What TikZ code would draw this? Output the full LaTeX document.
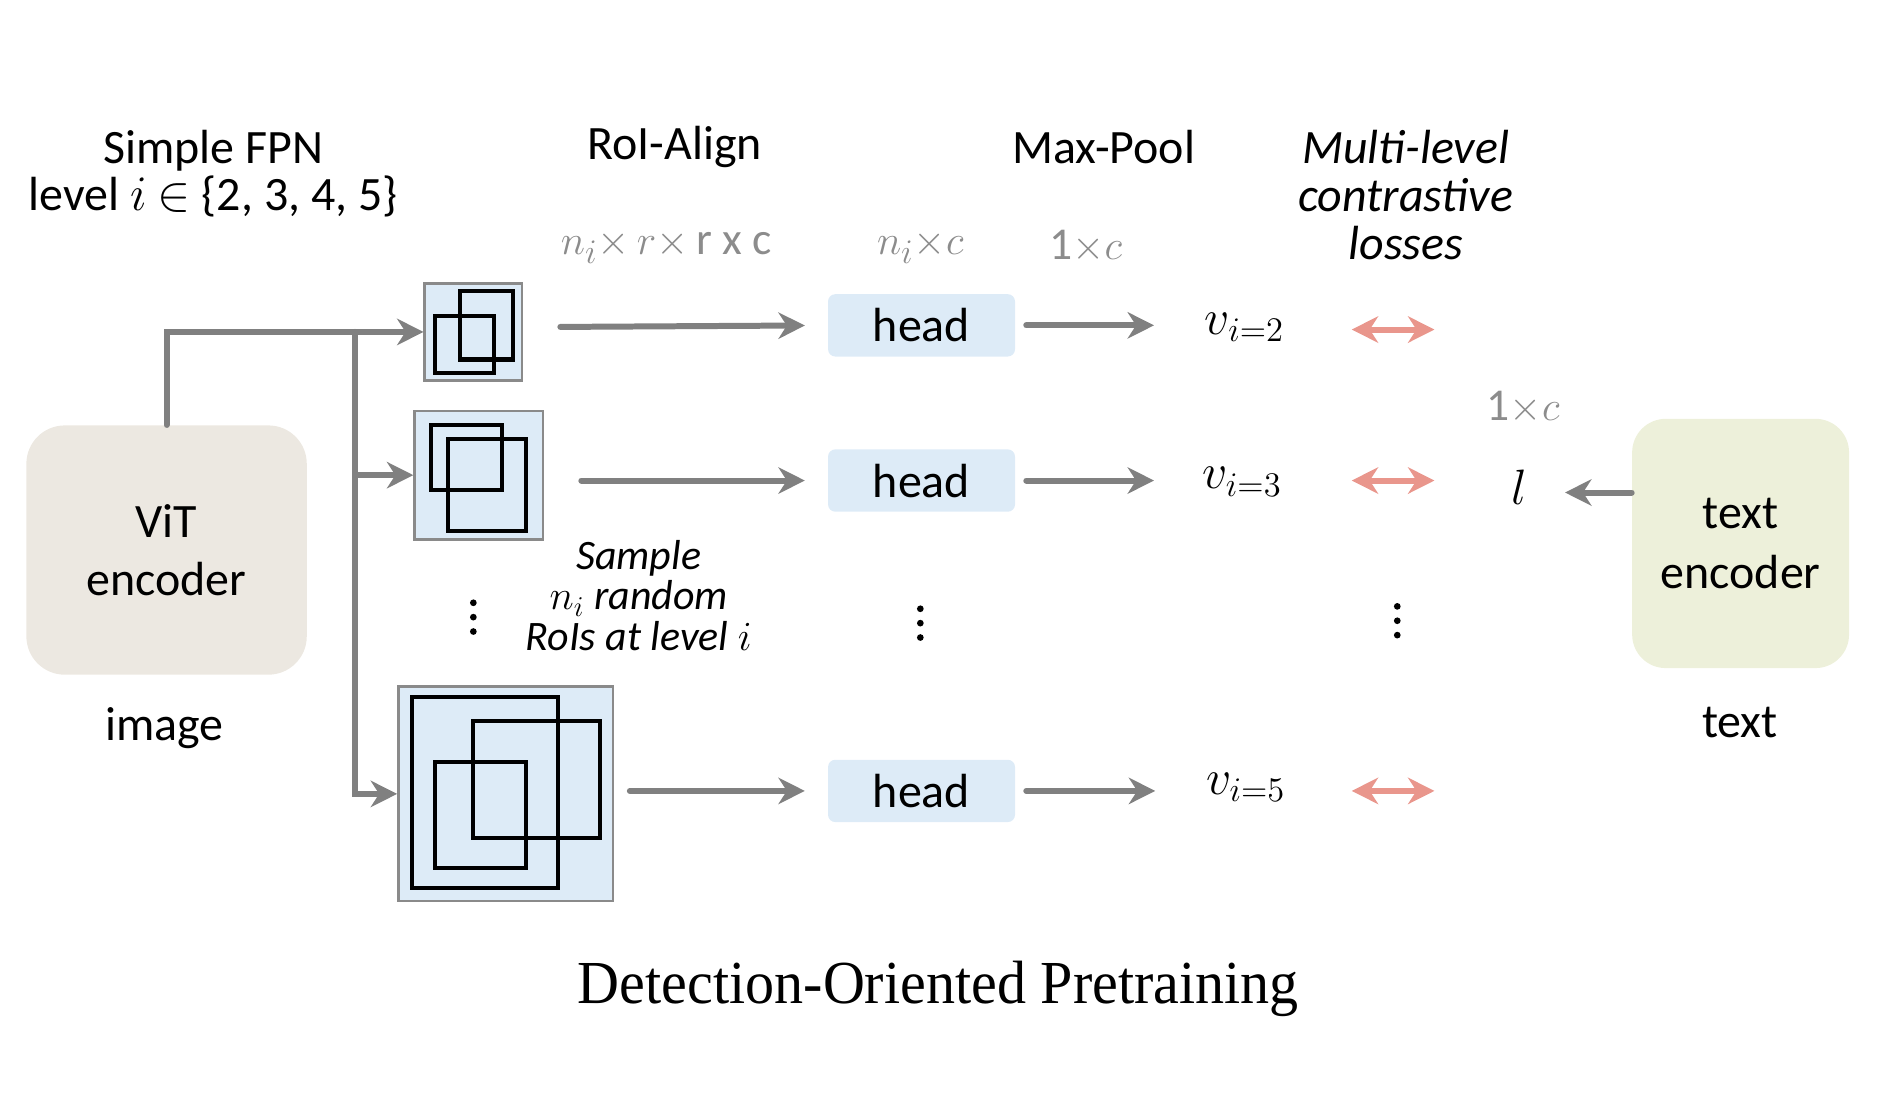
\documentclass[tikz,border=0pt]{standalone}
\usepackage{graphicx}
\usepackage{fontspec}
\setmainfont{Carlito}
\newfontfamily\timesfont{Liberation Serif}
\usetikzlibrary{arrows.meta}
\definecolor{arrgray}{HTML}{808080}
\definecolor{lblue}{HTML}{DDEBF7}
\definecolor{vitfill}{HTML}{ECE8E1}
\definecolor{txtfill}{HTML}{EDF0DA}
\definecolor{salmon}{HTML}{E9968C}
\definecolor{dimgray}{HTML}{8C8C8C}
\definecolor{boxgray}{HTML}{8A8A8A}
\begin{document}
\begin{tikzpicture}[x=0.5pt,y=-0.5pt,
  txt/.style={font=\fontsize{20}{24}\selectfont, align=center, inner sep=0pt},
  dimlbl/.style={font=\fontsize{19}{22}\selectfont, text=dimgray, inner sep=0pt},
  feat/.style={draw=boxgray, line width=1.1pt, fill=lblue, inner sep=0pt},
  roi/.style={draw=black, line width=1.7pt},
  headbox/.style={fill=lblue, rounded corners=3pt, minimum width=78pt, minimum height=26pt, inner sep=0pt, font=\fontsize{20}{24}\selectfont},
  enc/.style={minimum height=104pt, inner sep=0pt, align=center},
  arr/.style={draw=arrgray, line width=2.5pt, line cap=round, -{Stealth[length=11pt,width=11pt,inset=3.5pt]}},
  darr/.style={draw=salmon, line width=2.5pt, {Stealth[length=11pt,width=11pt,inset=3.5pt]}-{Stealth[length=11pt,width=11pt,inset=3.5pt]}},
  vlbl/.style={font=\fontsize{20}{24}\selectfont, inner sep=0pt, anchor=west}
]
\useasboundingbox (0,0) rectangle (1568,926.2);

% encoders
\node[enc, fill=vitfill, rounded corners=16pt, minimum width=117pt, font=\fontsize{20}{24}\selectfont] (vit) at (139,459) {ViT\\encoder};
\node[enc, fill=txtfill, rounded corners=14pt, minimum width=90.5pt, font=\fontsize{20}{25}\selectfont] (te) at (1452.5,453.5) {text\\encoder};
\node[txt] (img) at (137,608) {image};
\node[txt] (txtlbl) at (1452,603) {text};

% headers
\node[txt, font=\fontsize{20}{19.5}\selectfont] (fpn) at (178,145) {Simple FPN\\level $i$ $\in$ \{2, 3, 4, 5\}};
\node[txt] (roialign) at (563,123) {RoI-Align};
\node[txt] (maxpool) at (921,123) {Max-Pool};
\node[txt, font=\itshape\fontsize{20}{20}\selectfont] (mlc) at (1173,163) {Multi-level\\contrastive\\losses};

% dimension labels
\node[dimlbl] (d1) at (556,206) {$n_i{\times}\,r{\times}$\,r x c};
\node[dimlbl] (d2) at (768,206) {$n_i{\times}c$};
\node[dimlbl] (d3) at (906,206) {1$\times$$c$};
\node[dimlbl] (d4) at (1271,340) {1$\times$$c$};

% feature maps
\node[feat, minimum width=40.5pt, minimum height=40.5pt] (f1) at (395,277) {};
\node[feat, minimum width=53.5pt, minimum height=53.5pt] (f2) at (399.5,396.5) {};
\node[feat, minimum width=89.5pt, minimum height=89.5pt] (f3) at (422,662.5) {};
\draw[roi] (384,243) rectangle (428,300);
\draw[roi] (363,264) rectangle (412,311);
\draw[roi] (360,355) rectangle (419,409);
\draw[roi] (374,366) rectangle (439,443);
\draw[roi] (344,582) rectangle (466,741);
\draw[roi] (395,602) rectangle (501,699);
\draw[roi] (363,636) rectangle (439,724);

\node[txt, font=\itshape\fontsize{17.5}{17}\selectfont] (sample) at (533,497) {Sample\\$n_i$ random\\RoIs at level $i$};

% heads
\node[headbox] (h1) at (769,271.5) {head};
\node[headbox] (h2) at (769,401) {head};
\node[headbox] (h3) at (769,660) {head};

% v labels
\node[vlbl] (v1) at (1005,273) {$v_{i=2}$};
\node[vlbl] (v2) at (1003,402) {$v_{i=3}$};
\node[vlbl] (v3) at (1006,657) {$v_{i=5}$};
\node[font=\fontsize{20}{24}\selectfont, inner sep=0pt] (l) at (1268,407) {$l$};

% connectors
\coordinate (br) at (296,277);
\draw[arr] (vit.north) |- (f1.west);
\draw[arr] (br) |- (f2.west);
\draw[arr] (br) |- (f3.west);

\draw[arr, shorten <=15.5pt, shorten >=9.5pt] ([yshift=2pt]f1.east) -- (h1.west);
\draw[arr, shorten <=15.5pt, shorten >=9.5pt] (f2.east |- h2.west) -- (h2.west);
\draw[arr, shorten <=6.5pt, shorten >=9.5pt] (f3.east |- h3.west) -- (h3.west);

\draw[arr, shorten <=4.5pt, shorten >=21pt] (h1.east) -- (h1.east -| v1.west);
\draw[arr, shorten <=4.5pt, shorten >=20pt] (h2.east) -- (h2.east -| v2.west);
\draw[arr, shorten <=4.5pt, shorten >=21pt] (h3.east) -- (h3.east -| v3.west);

\coordinate (dl1) at (1128,275); \coordinate (dr1) at (1197,275);
\coordinate (dl2) at (1128,401); \coordinate (dr2) at (1197,401);
\coordinate (dl3) at (1128,660); \coordinate (dr3) at (1197,660);
\draw[darr] (dl1) -- (dr1);
\draw[darr] (dl2) -- (dr2);
\draw[darr] (dl3) -- (dr3);

\coordinate (lt) at (1306,411);
\draw[arr] (te.west |- lt) -- (lt);

% vertical dots
\foreach \x/\y in {395/503, 768/508, 1166/506}{
  \fill (\x,\y) circle (1.4pt);
  \fill (\x,\y+12) circle (1.4pt);
  \fill (\x,\y+24) circle (1.4pt);
}

% title
\node[inner sep=0pt, anchor=base] (title) at (783,837) {\timesfont\fontsize{25.5}{30}\selectfont\scalebox{0.95}[1]{Detection-Oriented Pretraining}};
\end{tikzpicture}
\end{document}
